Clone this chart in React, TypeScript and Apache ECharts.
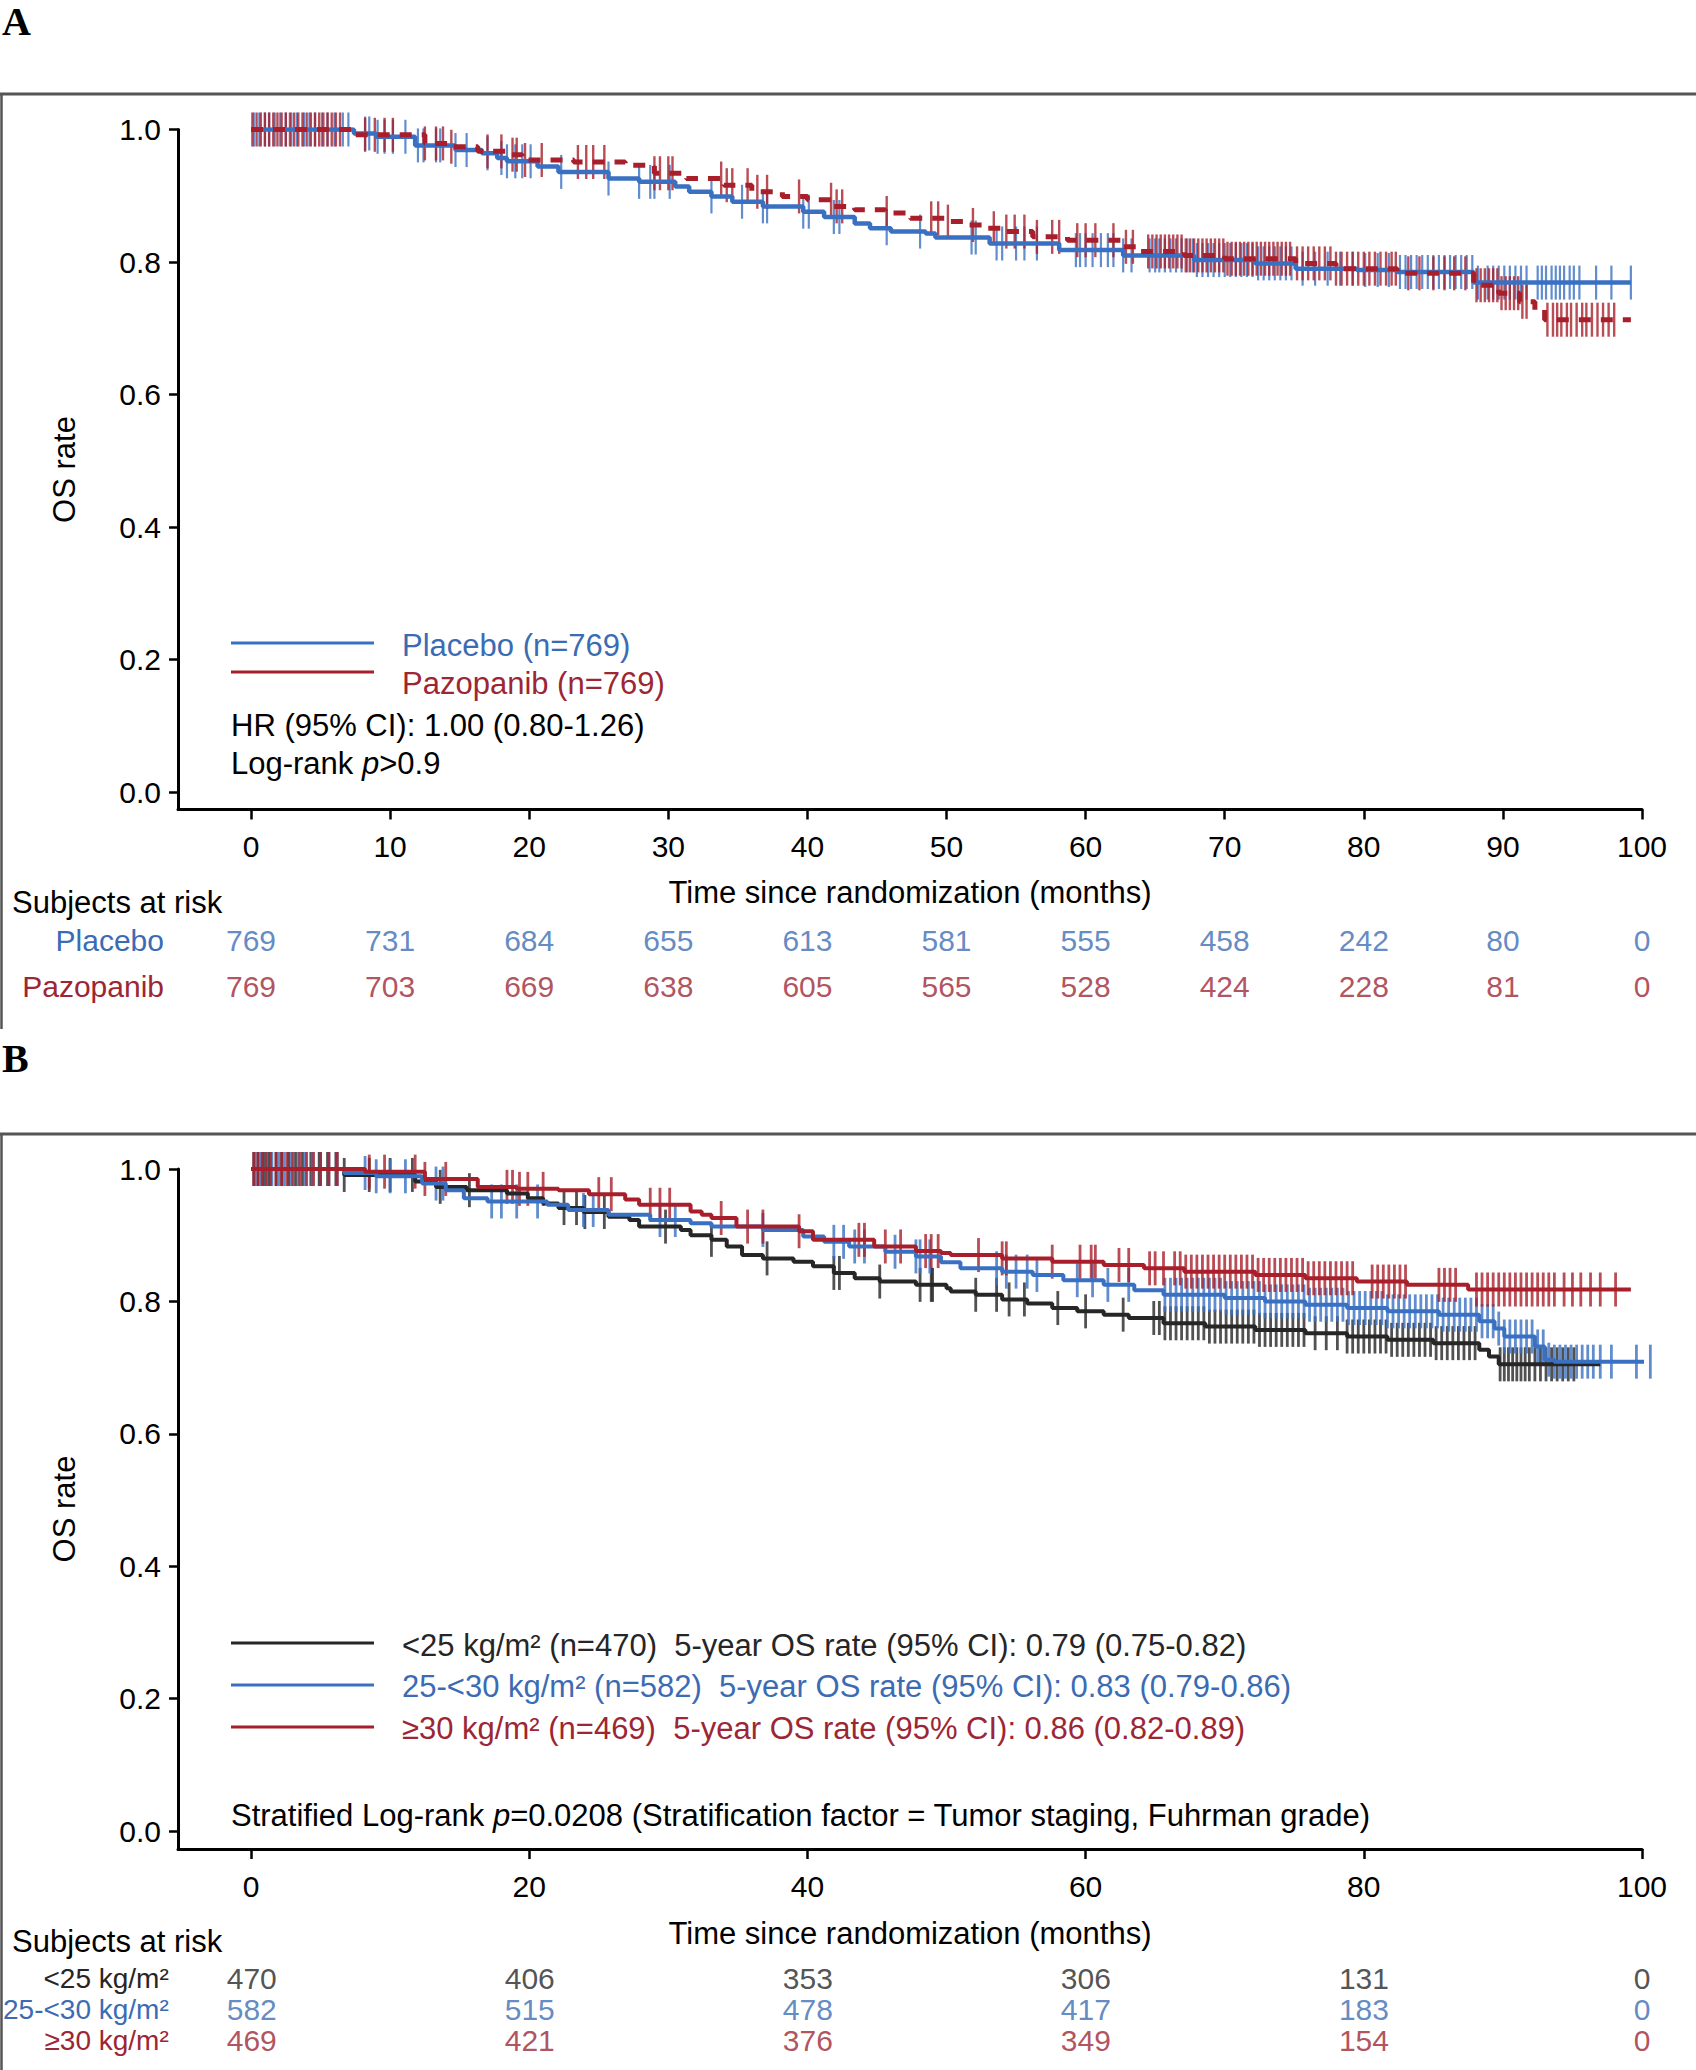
import React, { useEffect, useRef } from 'react';
import * as echarts from 'echarts';

const FONT = '"Liberation Sans", Arial, Helvetica, sans-serif';
const BLUE = '#3a70c2';
const BLUE_TXT = '#3b6cb3';
const RED = '#a81f2b';
const RED_TXT = '#9c2634';
const BLACK = '#262626';

// ---------- Panel A ----------
const aTicks = [0, 10, 20, 30, 40, 50, 60, 70, 80, 90, 100];
const aRiskRows = ['Placebo', 'Pazopanib'];
const aRiskPlacebo = [769, 731, 684, 655, 613, 581, 555, 458, 242, 80, 0];
const aRiskPazopanib = [769, 703, 669, 638, 605, 565, 528, 424, 228, 81, 0];

const aPlaceboCurve = [[0,1],[7.4,0.994],[9,0.989],[11.8,0.976],[14.7,0.969],[16.6,0.964],[17.7,0.957],[18.4,0.952],[20.6,0.944],[22.1,0.936],[25.7,0.926],[27.9,0.921],[30.5,0.914],[31.5,0.906],[33.1,0.899],[34.6,0.891],[36.8,0.884],[39.7,0.876],[41.2,0.868],[43.4,0.858],[44.5,0.851],[46,0.846],[48.5,0.843],[49.2,0.837],[53.1,0.828],[58.1,0.818],[62.7,0.81],[67.8,0.803],[72.2,0.798],[75.1,0.79],[79.5,0.788],[82.4,0.785],[87.9,0.769],[99.2,0.769]];
const aPazopanibCurve = [[0,1],[7.4,0.992],[12.5,0.979],[14.4,0.974],[16.3,0.967],[18.4,0.962],[19.5,0.954],[23.2,0.951],[26.9,0.946],[29.0,0.934],[31.3,0.926],[34.0,0.916],[36.0,0.906],[38.2,0.899],[40.0,0.894],[41.9,0.884],[43.4,0.879],[45.6,0.874],[47.4,0.866],[50.1,0.861],[51.4,0.856],[52.7,0.851],[54.0,0.846],[56.2,0.838],[58.7,0.833],[62.7,0.823],[63.8,0.816],[67.1,0.81],[70.0,0.805],[75.1,0.798],[78.0,0.79],[82.4,0.783],[87.9,0.765],[89.7,0.753],[91.2,0.74],[92.3,0.728],[93.0,0.713],[99.2,0.713]];

const aPlaceboCensor = [0.2,0.6,1.0,1.3,1.7,2.1,2.5,2.9,3.3,3.8,4.2,4.6,5.1,5.5,6.0,6.6,7.0,8.2,8.5,9.1,9.6,10.2,11.1,12.0,12.4,13.3,13.6,14.7,15.5,17.0,18.0,18.4,19.0,19.5,20.1,22.3,25.7,27.9,28.7,29.0,30.1,33.1,35.3,36.8,37.1,39.7,40.1,41.9,42.3,45.7,48.1,51.8,52.1,53.6,54.0,55.0,55.6,56.5,59.3,59.6,60.0,60.5,61.1,61.6,62.0,62.7,63.3,64.6,65.0,65.3,65.7,66.1,66.5,66.9,67.3,67.7,68.0,68.4,68.8,69.2,69.6,70.0,70.4,70.8,71.2,71.6,72.0,72.4,72.8,73.2,73.6,74.0,74.4,74.8,75.6,76.5,77.4,78.3,79.2,80.1,81.0,81.8,82.6,83.0,83.4,83.8,84.2,84.6,85.0,85.4,85.8,86.2,86.6,87.0,87.4,87.8,88.2,88.9,89.3,89.7,90.1,90.5,90.9,91.3,91.7,92.5,92.8,93.1,93.5,93.8,94.1,94.4,94.8,95.1,95.5,96.7,97.8,99.2];
const aPazopanibCensor = [0.1,0.4,0.7,1.0,1.3,1.6,1.9,2.2,2.5,2.8,3.1,3.4,3.7,4.0,4.3,4.6,4.9,5.2,5.5,5.8,6.1,6.4,8.2,8.9,9.6,10.2,12.5,13.3,13.8,14.4,17.0,18.0,18.8,19.1,19.7,20.9,23.5,24.1,24.6,25.4,29.0,29.4,30.0,30.3,33.8,34.2,34.6,35.7,36.4,37.1,39.4,41.7,42.1,42.5,45.7,48.9,49.4,50.1,51.9,53.4,54.3,54.9,55.6,56.5,57.6,58.1,59.4,60.0,60.7,62.0,62.9,63.4,64.5,64.8,65.1,65.4,65.7,66.0,66.3,66.6,66.9,67.2,67.5,67.8,68.1,68.4,68.7,69.0,69.3,69.6,69.9,70.2,70.5,70.8,71.1,71.4,71.7,72.0,72.3,72.6,72.9,73.2,73.5,73.8,74.1,74.4,74.7,75.2,75.6,76.0,76.4,76.8,77.2,77.6,78.0,78.4,78.8,79.2,79.6,80.0,80.4,80.8,81.2,81.6,82.0,82.3,83.2,84.0,85.0,85.8,86.5,87.3,88.1,88.4,88.7,89.0,89.3,89.6,89.9,90.2,90.5,90.8,91.1,91.4,91.7,93.2,93.6,93.9,94.2,94.6,94.9,95.3,95.7,96.0,96.4,96.8,97.2,97.6,98.0];

// ---------- Panel B ----------
const bTicks = [0, 20, 40, 60, 80, 100];
const bRiskRows = ['<25 kg/m²', '25-<30 kg/m²', '≥30 kg/m²'];
const bRiskLow = [470, 406, 353, 306, 131, 0];
const bRiskMid = [582, 515, 478, 417, 183, 0];
const bRiskHigh = [469, 421, 376, 349, 154, 0];

const bLowCurve = [[0,1],[6.7,0.991],[11.8,0.981],[13.3,0.973],[15.5,0.968],[18.4,0.963],[19.9,0.956],[21.0,0.948],[22.1,0.941],[23.9,0.935],[25.7,0.928],[27.2,0.923],[27.9,0.913],[30.9,0.908],[31.6,0.9],[33.1,0.893],[34.2,0.883],[35.3,0.87],[36.8,0.865],[39.0,0.86],[40.4,0.853],[41.9,0.843],[43.4,0.835],[45.2,0.83],[47.8,0.825],[50.0,0.82],[50.3,0.815],[52.1,0.81],[54.0,0.803],[55.8,0.797],[57.6,0.79],[59.4,0.785],[61.3,0.78],[63.1,0.775],[65.6,0.767],[68.6,0.762],[72.2,0.757],[75.8,0.752],[78.8,0.747],[81.7,0.742],[85.0,0.737],[88.3,0.727],[89.0,0.717],[89.7,0.705],[97.0,0.705]];
const bMidCurve = [[0,1],[6.7,0.994],[9.0,0.989],[12.3,0.978],[14.0,0.968],[15.3,0.956],[17.0,0.951],[21.3,0.946],[22.8,0.938],[25.7,0.931],[28.7,0.923],[31.6,0.918],[33.1,0.913],[36.8,0.908],[39.7,0.898],[41.2,0.89],[43.0,0.883],[45.6,0.875],[47.8,0.868],[49.6,0.859],[51.0,0.85],[54.0,0.845],[56.2,0.84],[58.4,0.832],[61.3,0.825],[63.5,0.817],[65.6,0.81],[70.0,0.805],[72.9,0.8],[75.8,0.795],[78.8,0.79],[81.7,0.785],[85.4,0.78],[88.3,0.77],[89.4,0.759],[90.1,0.747],[92.3,0.732],[93.0,0.712],[93.7,0.709],[100.6,0.709]];
const bHighCurve = [[0,1],[8.2,0.996],[12.5,0.985],[16.3,0.973],[19.1,0.97],[22.1,0.968],[24.3,0.962],[26.9,0.954],[27.9,0.946],[31.6,0.936],[32.4,0.931],[33.1,0.926],[34.9,0.913],[39.4,0.906],[40.4,0.893],[44.8,0.883],[47.8,0.876],[49.6,0.873],[50.3,0.87],[54.0,0.865],[57.6,0.86],[61.3,0.855],[64.2,0.85],[67.1,0.845],[72.2,0.84],[75.8,0.835],[79.5,0.83],[83.1,0.825],[87.5,0.818],[99.2,0.818]];

const bLowCensor = [0.2,0.5,0.9,1.3,1.8,2.2,2.7,3.2,3.7,4.3,4.9,5.5,6.1,6.7,8.5,10.0,11.6,13.6,15.7,22.5,23.4,24.0,25.4,29.8,33.1,37.1,41.9,42.3,45.2,48.1,48.9,49.0,52.1,53.6,54.5,55.6,58.0,60.0,62.7,64.9,65.3,65.7,66.1,66.5,66.9,67.3,67.7,68.1,68.5,68.9,69.3,69.7,70.1,70.5,70.9,71.3,71.7,72.1,72.5,72.9,73.3,73.7,74.1,74.5,74.9,75.3,75.7,76.5,77.3,78.1,78.8,79.2,79.6,80.0,80.4,80.8,81.2,81.6,82.0,82.4,82.8,83.2,83.6,84.0,84.4,84.8,85.2,85.6,86.0,86.4,86.8,87.2,87.6,88.0,89.8,90.1,90.4,90.7,91.0,91.3,91.6,91.9,92.3,92.7,93.1,93.5,93.9,94.3,94.7,95.1];
const bMidCensor = [0.3,0.7,1.1,1.5,2.0,2.4,2.9,3.4,3.9,4.4,5.0,5.6,6.2,8.2,9.0,10.0,11.1,13.3,13.8,17.3,18.0,19.1,20.6,23.9,24.6,29.4,30.5,36.8,41.9,42.6,43.4,44.1,46.3,47.8,48.1,48.8,53.6,54.3,55.0,55.8,56.5,59.4,60.5,61.6,63.1,65.7,66.1,66.5,66.9,67.3,67.7,68.1,68.5,68.9,69.3,69.7,70.1,70.5,70.9,71.3,71.7,72.1,72.5,72.9,73.3,73.7,74.1,74.5,74.9,75.3,75.7,76.1,76.5,76.9,77.3,77.7,78.1,78.5,78.9,79.3,79.7,80.1,80.5,80.9,81.3,81.7,82.1,82.5,82.9,83.3,83.7,84.1,84.5,84.9,85.3,85.7,86.1,86.5,86.9,87.3,87.7,88.1,88.5,88.9,89.3,89.7,90.1,90.5,90.9,91.3,91.7,92.1,92.5,92.9,93.3,93.7,94.1,94.5,94.9,95.3,95.7,96.1,96.5,97.0,97.8,99.6,100.6];
const bHighCensor = [0.2,0.5,0.8,1.1,1.4,1.8,2.2,2.6,3.0,3.5,4.0,4.5,5.0,5.6,6.2,8.5,9.6,11.8,12.5,14.0,18.4,18.8,19.3,19.9,21.0,25.0,25.9,28.7,29.4,30.1,33.8,35.7,36.8,39.4,43.7,44.1,45.6,46.7,48.5,48.9,49.4,52.3,54.0,54.3,57.6,59.6,60.4,60.7,62.4,63.1,64.6,65.0,65.6,66.4,66.8,67.2,67.6,68.0,68.4,68.8,69.2,69.6,70.0,70.4,70.8,71.2,71.6,72.0,72.4,72.8,73.2,73.6,74.0,74.4,74.8,75.2,75.6,76.0,76.4,76.8,77.2,77.6,78.0,78.4,78.8,79.2,80.6,81.0,81.4,81.8,82.2,82.6,83.0,85.4,85.8,86.2,86.6,88.1,88.5,88.9,89.3,89.7,90.1,90.5,90.9,91.3,91.7,92.1,92.5,92.9,93.3,93.7,94.4,95.0,95.6,96.3,97.0,98.1];

const yTicks = [0, 0.2, 0.4, 0.6, 0.8, 1.0];

function stepAt(curve: number[][], t: number): number {
  let v = curve[0][1];
  for (const p of curve) {
    if (p[0] <= t) v = p[1];
    else break;
  }
  return v;
}

const X_MIN = -5.25;
const GRID_LEFT = 178;
const GRID_RIGHT = 54;

function mainX(gridIndex: number, ticks: number[], nameGap: number) {
  return {
    type: 'value', gridIndex, min: X_MIN, max: 100,
    axisLine: { show: true, onZero: false, lineStyle: { color: '#000', width: 3 } },
    axisTick: { show: true, length: 10, lineStyle: { color: '#000', width: 2.5 }, customValues: ticks },
    axisLabel: { show: true, customValues: ticks, fontSize: 30, color: '#000', fontFamily: FONT, margin: 22 },
    splitLine: { show: false },
    name: 'Time since randomization (months)', nameLocation: 'middle', nameGap,
    nameTextStyle: { fontSize: 31, color: '#000', fontFamily: FONT },
  };
}
function mainY(gridIndex: number, min: number) {
  return {
    type: 'value', gridIndex, min, max: 1,
    axisLine: { show: true, onZero: false, lineStyle: { color: '#000', width: 3 } },
    axisTick: { show: true, length: 9, lineStyle: { color: '#000', width: 2.5 }, customValues: yTicks },
    axisLabel: { show: true, customValues: yTicks, fontSize: 30, color: '#000', fontFamily: FONT, margin: 17,
      formatter: (v: number) => v.toFixed(1) },
    splitLine: { show: false },
    name: 'OS rate', nameLocation: 'middle', nameGap: 98, nameRotate: 90,
    nameTextStyle: { fontSize: 31, color: '#000', fontFamily: FONT },
  };
}
function riskX(gridIndex: number) {
  return { type: 'value', gridIndex, min: X_MIN, max: 100, show: false };
}
function riskY(gridIndex: number, rows: string[], colors: string[], fontSize: number, margin: number) {
  return {
    type: 'category', gridIndex, data: rows, inverse: true,
    axisLine: { show: false }, axisTick: { show: false }, splitLine: { show: false },
    axisLabel: { show: true, interval: 0, hideOverlap: false, fontSize, fontFamily: FONT, margin,
      color: (v: string) => colors[rows.indexOf(v)] },
  };
}
function kmLine(curve: number[][], axis: number, color: string, width: number, type: any = 'solid', clip = true) {
  return {
    type: 'line', xAxisIndex: axis, yAxisIndex: axis, step: 'end', symbol: 'none', clip,
    data: curve, lineStyle: { color, width, type }, silent: true,
  };
}
function censor(curve: number[][], times: number[], axis: number, color: string, h: number, w: number) {
  return {
    type: 'scatter', xAxisIndex: axis, yAxisIndex: axis, symbol: 'rect', symbolSize: [w, h], clip: false,
    itemStyle: { color }, silent: true,
    data: times.map((t) => [t, stepAt(curve, t)]),
  };
}
function riskSeries(axis: number, times: number[], row: string, counts: number[], color: string) {
  return {
    type: 'scatter', xAxisIndex: axis, yAxisIndex: axis, symbolSize: 1, silent: true,
    itemStyle: { color: 'rgba(0,0,0,0)' },
    label: { show: true, position: 'inside', formatter: (p: any) => String(p.value[2]),
      fontSize: 30, fontFamily: FONT, color },
    data: times.map((t, i) => [t, row, counts[i]]),
  };
}

function txt(x: number, y: number, text: string, fill: string, extra: any = {}) {
  return {
    type: 'text', x, y, silent: true,
    style: { text, fill, fontSize: 31, fontFamily: FONT, verticalAlign: 'middle', align: 'left', ...extra },
  };
}
function hline(x1: number, x2: number, y: number, stroke: string, w: number) {
  return { type: 'line', silent: true, shape: { x1, y1: y, x2, y2: y }, style: { stroke, lineWidth: w } };
}
function vline(x: number, y1: number, y2: number, stroke: string, w: number) {
  return { type: 'line', silent: true, shape: { x1: x, y1, x2: x, y2 }, style: { stroke, lineWidth: w } };
}

const italicRich = { i: { fontStyle: 'italic', fontSize: 31, fontFamily: FONT, fill: '#000' } };
const SERIF = '"Liberation Serif", "Times New Roman", serif';

const option: any = {
  animation: false,
  backgroundColor: '#fff',
  grid: [
    { left: GRID_LEFT, right: GRID_RIGHT, top: 129.5, height: 680 },
    { left: GRID_LEFT, right: GRID_RIGHT, top: 917, height: 92 },
    { left: GRID_LEFT, right: GRID_RIGHT, top: 1169, height: 680 },
    { left: GRID_LEFT, right: GRID_RIGHT, top: 1963, height: 93 },
  ],
  xAxis: [mainX(0, aTicks, 67), riskX(1), mainX(2, bTicks, 69), riskX(3)],
  yAxis: [
    mainY(0, -0.026),
    riskY(1, aRiskRows, [BLUE_TXT, RED_TXT], 30, 14),
    mainY(2, -0.027),
    riskY(3, bRiskRows, [BLACK, BLUE_TXT, RED_TXT], 28, 10),
  ],
  series: [
    kmLine(aPlaceboCurve, 0, BLUE, 4.5),
    censor(aPlaceboCurve, aPlaceboCensor, 0, BLUE, 34, 2.2),
    kmLine(aPazopanibCurve, 0, RED, 5, [12, 10]),
    censor(aPazopanibCurve, aPazopanibCensor, 0, RED, 34, 2.4),
    riskSeries(1, aTicks, 'Placebo', aRiskPlacebo, BLUE_TXT),
    riskSeries(1, aTicks, 'Pazopanib', aRiskPazopanib, RED_TXT),

    kmLine(bLowCurve, 2, BLACK, 4),
    censor(bLowCurve, bLowCensor, 2, BLACK, 34, 2.8),
    kmLine(bMidCurve, 2, BLUE, 4, 'solid', false),
    censor(bMidCurve, bMidCensor, 2, BLUE, 34, 2.8),
    kmLine(bHighCurve, 2, RED, 4),
    censor(bHighCurve, bHighCensor, 2, RED, 34, 2.8),
    riskSeries(3, bTicks, bRiskRows[0], bRiskLow, BLACK),
    riskSeries(3, bTicks, bRiskRows[1], bRiskMid, BLUE_TXT),
    riskSeries(3, bTicks, bRiskRows[2], bRiskHigh, RED_TXT),
  ],
  graphic: [
    // panel labels
    { type: 'text', x: 2, y: 21, silent: true,
      style: { text: 'A', fill: '#000', fontSize: 40, fontWeight: 'bold', fontFamily: SERIF, verticalAlign: 'middle' } },
    { type: 'text', x: 2, y: 1058, silent: true,
      style: { text: 'B', fill: '#000', fontSize: 40, fontWeight: 'bold', fontFamily: SERIF, verticalAlign: 'middle' } },
    // frames
    hline(0, 1696, 94, '#555', 3),
    vline(1.5, 94, 1029, '#555', 2.5),
    hline(0, 1696, 1134, '#555', 3),
    vline(1.5, 1134, 2070, '#555', 2.5),
    // panel A legend
    hline(231, 374, 643, BLUE, 3),
    hline(231, 374, 672, RED, 3),
    txt(402, 645, 'Placebo (n=769)', BLUE_TXT),
    txt(402, 683, 'Pazopanib (n=769)', RED_TXT),
    txt(231, 725, 'HR (95% CI): 1.00 (0.80-1.26)', '#000'),
    txt(231, 763, 'Log-rank {i|p}>0.9', '#000', { rich: italicRich }),
    txt(12, 902, 'Subjects at risk', '#000'),
    // panel B legend
    hline(231, 374, 1643, BLACK, 3),
    hline(231, 374, 1685, BLUE, 3),
    hline(231, 374, 1727, RED, 3),
    txt(402, 1645, '<25 kg/m² (n=470)  5-year OS rate (95% CI): 0.79 (0.75-0.82)', BLACK),
    txt(402, 1686, '25-<30 kg/m² (n=582)  5-year OS rate (95% CI): 0.83 (0.79-0.86)', BLUE_TXT),
    txt(402, 1728, '≥30 kg/m² (n=469)  5-year OS rate (95% CI): 0.86 (0.82-0.89)', RED_TXT),
    txt(231, 1815, 'Stratified Log-rank {i|p}=0.0208 (Stratification factor = Tumor staging, Fuhrman grade)', '#000', { rich: italicRich }),
    txt(12, 1941, 'Subjects at risk', '#000'),
  ],
};

export default function App() {
  const ref = useRef<HTMLDivElement>(null);
  useEffect(() => {
    if (!ref.current) return;
    const chart = echarts.init(ref.current, null, { renderer: 'svg' });
    chart.setOption(option);
    return () => chart.dispose();
  }, []);
  return (
    <div
      ref={ref}
      style={{ position: 'absolute', left: 0, top: 0, width: 1696, height: 2070, background: '#fff' }}
    />
  );
}
